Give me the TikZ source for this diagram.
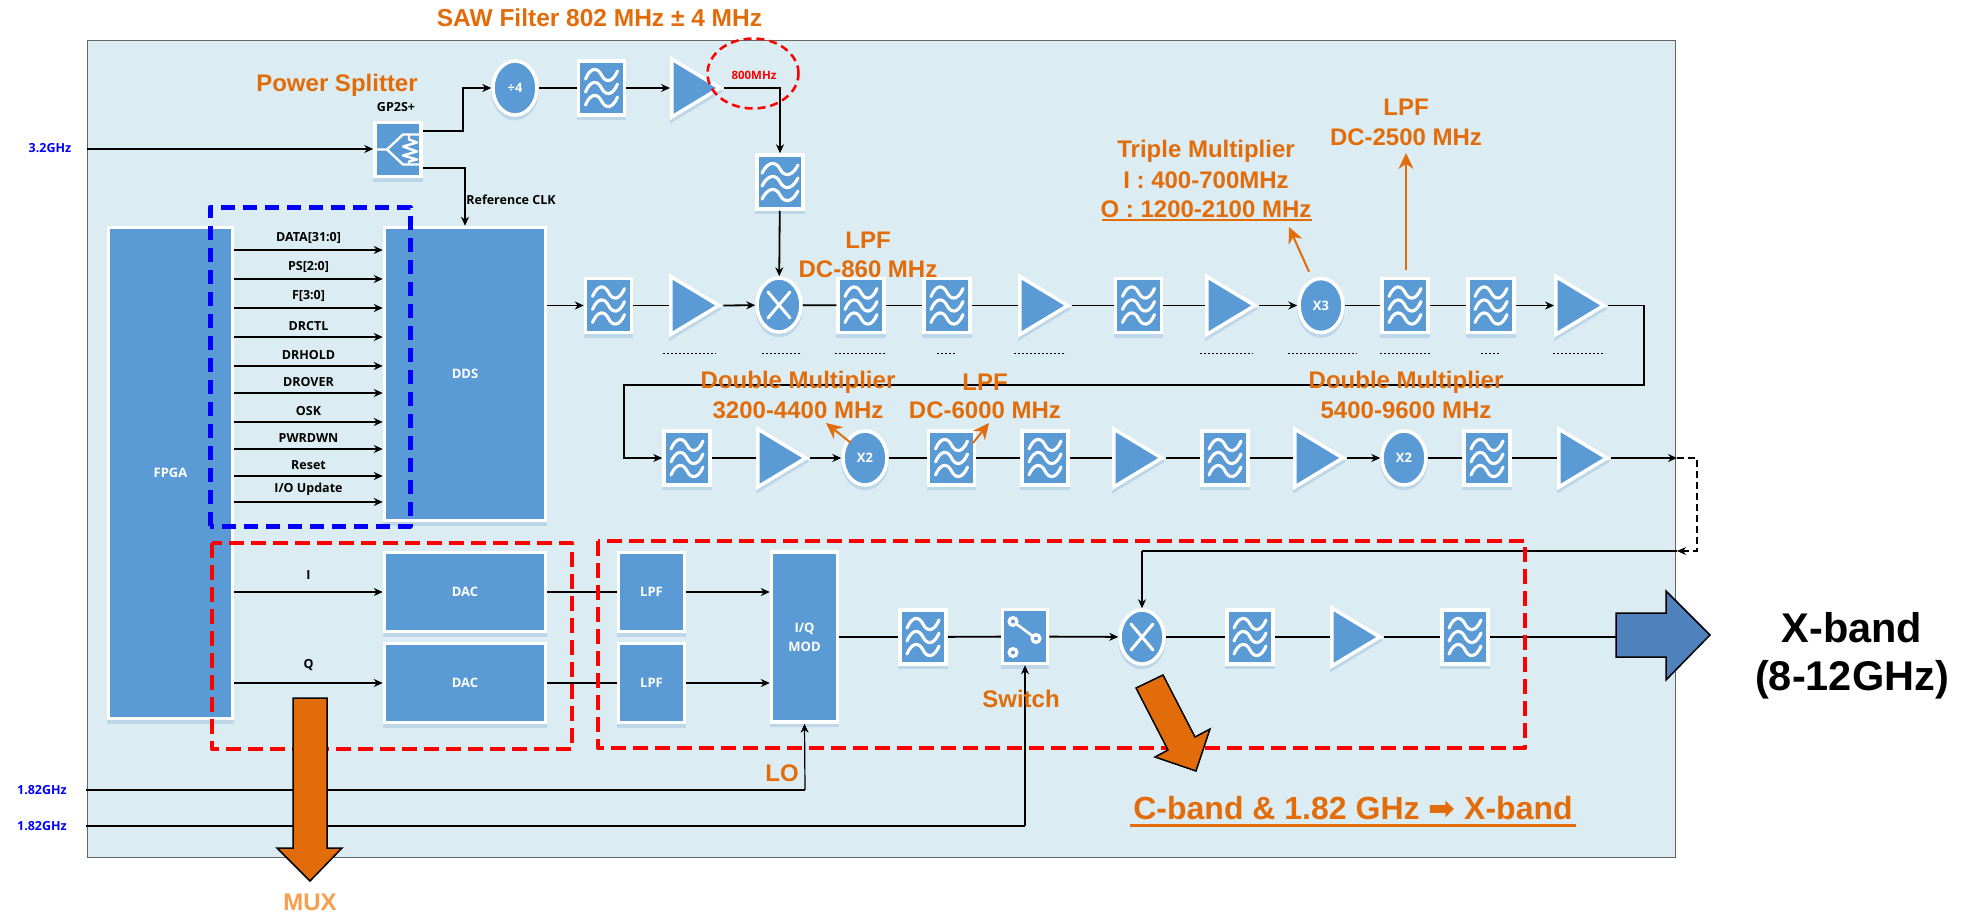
\documentclass[tikz,border=0pt]{standalone}
\usepackage{fontspec}
\setmainfont{Liberation Sans}
\newfontfamily\lab{Open Sans}
\newfontfamily\arrowfont{DejaVu Sans}
\usetikzlibrary{arrows.meta,shapes.geometric,shadows}
\definecolor{panelc}{HTML}{DBEDF3}
\definecolor{blockc}{HTML}{5B9BD5}
\definecolor{shadc}{HTML}{BDD7E8}
\definecolor{orangec}{HTML}{E36C0A}
\definecolor{muxc}{HTML}{F79E4F}
\definecolor{bigblue}{HTML}{4F81BD}
\tikzset{
  >={Stealth[length=9pt,width=8pt]},
  blk/.style={draw=white,fill=blockc,line width=3.5pt,inner sep=0pt,
    general shadow={shadow xshift=0pt,shadow yshift=-3.5pt,fill=shadc,draw=shadc}},
  wire/.style={draw=black,line width=1.8pt},
  thinwire/.style={draw=black,line width=1.2pt},
  boxb/.style={blk,rectangle,text=white,font=\lab\bfseries\fontsize{13}{16}\selectfont,align=center},
  filt/.style={blk,rectangle,minimum width=46pt,minimum height=54pt,
    path picture={\begin{scope}[shift={(path picture bounding box.center)},white,line width=3.1pt,line cap=round]
      \foreach \q in {-13,0,13}{\draw (-16,\q+4) .. controls (-11,\q-8) and (-4,\q-8) .. (0,\q) .. controls (4,\q+8) and (11,\q+8) .. (16,\q-4);}
    \end{scope}}},
  vfilt/.style={blk,rectangle,minimum width=46pt,minimum height=54pt,
    path picture={\begin{scope}[shift={(path picture bounding box.center)},rotate=90,white,line width=3.1pt,line cap=round]
      \foreach \q in {-13,0,13}{\draw (-18,\q+4) .. controls (-12,\q-8) and (-4,\q-8) .. (0,\q) .. controls (4,\q+8) and (12,\q+8) .. (18,\q-4);}
    \end{scope}}},
  split/.style={blk,rectangle,minimum width=46pt,minimum height=54pt,
    path picture={\begin{scope}[shift={(path picture bounding box.center)},white,line width=2.4pt,line join=round]
      \draw (-24,0) -- (-11,0) -- (5,-15) -- (24,-15);
      \draw (-11,0) -- (5,15) -- (24,15);
      \draw (11,-15) -- (11,-10) -- (19,-7) -- (5,-3) -- (19,2) -- (5,6) -- (19,10) -- (11,12) -- (11,15);
    \end{scope}}},
  swit/.style={blk,rectangle,minimum width=45pt,minimum height=54pt,
    path picture={\begin{scope}[shift={(path picture bounding box.center)},white]
      \draw[line width=2.6pt] (-12,-15) -- (11,2);
      \foreach \a/\b in {-12/-15,11/2,-12/16}{\fill (\a,\b) circle (5.6pt);\fill[blockc] (\a,\b) circle (2pt);}
    \end{scope}}},
  oval/.style={blk,ellipse,minimum width=44pt,minimum height=54pt,text=white,font=\lab\bfseries\fontsize{13}{15}\selectfont},
  mixer/.style={oval,
    path picture={\begin{scope}[shift={(path picture bounding box.center)},white,line width=3pt,line cap=round]
      \draw (-11,-13) -- (11,13); \draw (-11,13) -- (11,-13);
    \end{scope}}},
  amp/.style={blk,isosceles triangle,isosceles triangle stretches=true,shape border rotate=0,
    minimum width=58pt,minimum height=48pt,anchor=west},
  sig/.style={font=\lab\bfseries\fontsize{12.5}{15}\selectfont},
  freq/.style={font=\lab\bfseries\fontsize{12.5}{15}\selectfont,text=blue},
  ann/.style={font=\bfseries\fontsize{24}{28}\selectfont,text=orangec,inner sep=0pt},
  ptr/.style={draw=orangec,line width=2pt,-{Stealth[length=16pt,width=15pt]}},
  reddash/.style={draw=red,line width=4.5pt,dash pattern=on 15pt off 7pt,line join=round},
  specks/.style={draw=black,line width=1pt,dash pattern=on 2pt off 2pt},
}
\begin{document}
\begin{tikzpicture}[x=1pt,y=-1pt]
\useasboundingbox (0,0) rectangle (1961,912);
\fill[white] (0,0) rectangle (1961,912);
% panel
\node[draw=black!60!white,fill=panelc,line width=1.3pt,rectangle,anchor=north west,minimum width=1588pt,minimum height=817pt,inner sep=0pt] (panel) at (87,40) {};

% top chain
\node[split] (splitter) at (398,149.5) {};
\node[oval] (div4) at (515,88) {÷4};
\node[filt] (ft1) at (601.5,88) {};
\node[amp] (at1) at (670,88) {};
\node[vfilt] (fv) at (780,182) {};
\node[mixer] (mx1) at (779,305) {};

% blocks
\node[boxb,minimum width=124pt,minimum height=491pt] (fpga) at (170.5,473) {FPGA};
\node[boxb,minimum width=161pt,minimum height=293pt] (dds) at (465,374) {DDS};

% row 1
\node[filt] (r1a) at (608.5,305.5) {};
\node[amp] (r1b) at (669,305.5) {};
\node[filt] (r1c) at (861,305.5) {};
\node[filt] (r1d) at (947,305.5) {};
\node[amp] (r1e) at (1018,305.5) {};
\node[filt] (r1f) at (1138.5,305.5) {};
\node[amp] (r1g) at (1205,305.5) {};
\node[oval] (x3) at (1321,305.5) {X3};
\node[filt] (r1h) at (1405,305.5) {};
\node[filt] (r1i) at (1491,305.5) {};
\node[amp] (r1j) at (1554,305.5) {};

% row 2
\node[filt] (r2a) at (687,458) {};
\node[amp] (r2b) at (756,458) {};
\node[oval] (x2a) at (865,458) {X2};
\node[filt] (r2c) at (951.5,458) {};
\node[filt] (r2d) at (1045,458) {};
\node[amp] (r2e) at (1112,458) {};
\node[filt] (r2f) at (1225,458) {};
\node[amp] (r2g) at (1293,458) {};
\node[oval] (x2b) at (1404,458) {X2};
\node[filt] (r2h) at (1487,458) {};
\node[amp] (r2i) at (1557,458) {};

% bottom
\node[boxb,minimum width=161pt,minimum height=79pt] (dac1) at (465,592) {DAC};
\node[boxb,minimum width=161pt,minimum height=79pt] (dac2) at (465,683) {DAC};
\node[boxb,minimum width=66pt,minimum height=79pt] (lpf1) at (651.5,592) {LPF};
\node[boxb,minimum width=66pt,minimum height=79pt] (lpf2) at (651.5,683) {LPF};
\node[boxb,minimum width=66pt,minimum height=170pt] (iq) at (804.5,637) {I/Q\\[3pt]MOD};
\node[filt] (b1) at (923,637) {};
\node[swit] (sw) at (1025,636.5) {};
\node[mixer] (mx2) at (1142,637) {};
\node[filt] (b2) at (1250,637) {};
\node[amp] (b3) at (1330,637) {};
\node[filt] (b4) at (1465,637) {};

% free ends and bends of connectors
\coordinate (in32) at (87,149);
\coordinate (in18a) at (86,790);
\coordinate (in18b) at (86,826);
\coordinate (spA) at (423,131);
\coordinate (spB) at (423,168);
\coordinate (out) at (1677,458);
\coordinate (ret) at (1677,551);
\coordinate (retb) at (1142,551);
\coordinate (lo) at (805,790);
\coordinate (swb) at (1025,826);
\coordinate (xin) at (1616,637);

% connectors top
\draw[wire,->] (in32) -- (splitter.west |- in32);
\draw[wire,->] (spA) -| (463,88) -- (div4.west);
\draw[wire] (div4) -- (ft1);
\draw[wire,->] (ft1) -- (at1.west);
\draw[wire,->] (at1.east) -| (fv.north);
\draw[wire,->] (fv) -- (mx1);
\draw[wire,->] (spB) -| (dds.north);

% FPGA to DDS
\foreach \yy/\tx in {250/DATA[31:0],279/PS[2:0],308/F[3:0],337/DRCTL,366/DRHOLD,393/DROVER,422/OSK,449/PWRDWN,476/Reset,502/I\slash O Update}{
  \coordinate (sg) at (300,\yy);
  \draw[wire,->] (fpga.east |- sg) -- node[sig,above=2pt,midway] {\tx} (dds.west |- sg);
}

% row 1 connectors
\draw[wire,->] (dds.east |- r1a) -- (r1a);
\draw[wire] (r1a) -- (r1b.west);
\draw[wire,->] (r1b.east) -- (mx1);
\draw[wire] (mx1) -- (r1c);
\draw[wire] (r1c) -- (r1d);
\draw[wire] (r1d) -- (r1e.west);
\draw[wire] (r1e.east) -- (r1f);
\draw[wire] (r1f) -- (r1g.west);
\draw[wire,->] (r1g.east) -- (x3);
\draw[wire] (x3) -- (r1h);
\draw[wire] (r1h) -- (r1i);
\draw[wire,->] (r1i) -- (r1j.west);
\draw[wire,->] (r1j.east) -- (1644,305.5) -- (1644,385) -- (624,385) -- (624,458) -- (r2a);

% row 2 connectors
\draw[wire] (r2a) -- (r2b.west);
\draw[wire,->] (r2b.east) -- (x2a);
\draw[wire] (x2a) -- (r2c);
\draw[wire] (r2c) -- (r2d);
\draw[wire] (r2d) -- (r2e.west);
\draw[wire] (r2e.east) -- (r2f);
\draw[wire] (r2f) -- (r2g.west);
\draw[wire,->] (r2g.east) -- (x2b);
\draw[wire] (x2b) -- (r2h);
\draw[wire] (r2h) -- (r2i.west);
\draw[wire,->] (r2i.east) -- (out);
\draw[thinwire,dash pattern=on 7pt off 4pt,->] (out) -- (1697,458) -- (1697,551) -- (ret);
\draw[wire] (ret) -- (retb);
\draw[thinwire,->] (retb) -- (mx2.north);

% bottom connectors
\draw[wire,->] (fpga.east |- dac1) -- node[sig,above=8pt,midway] {I} (dac1);
\draw[wire,->] (fpga.east |- dac2) -- node[sig,above=8pt,midway] {Q} (dac2);
\draw[wire] (dac1) -- (lpf1);
\draw[wire] (dac2) -- (lpf2);
\draw[wire,->] (lpf1) -- (iq.west |- lpf1);
\draw[wire,->] (lpf2) -- (iq.west |- lpf2);
\draw[wire] (iq.east |- b1) -- (b1);
\draw[wire] (b1) -- (sw);
\draw[wire,->] (sw) -- (mx2);
\draw[wire] (mx2) -- (b2);
\draw[wire] (b2) -- (b3.west);
\draw[wire] (b3.east) -- (b4);
\draw[wire] (b4) -- (xin);
\draw[wire] (in18a) -- (lo);
\draw[thinwire,->] (lo) -- (iq.south);
\draw[wire] (in18b) -- (swb);
\draw[thinwire,->] (swb) -- (sw.south);

% dotted remnants under row 1
\foreach \a/\b in {663/716,762/802,835/886,937/955,1014/1066,1200/1253,1288/1357,1380/1431,1481/1500,1553/1605}
  \draw[specks] (\a,353) -- (\b,353);

% dashed groups
\draw[draw=blue,line width=5pt,dash pattern=on 14pt off 8pt,line join=round] (210,526) -- (210,207) -- (410,207) -- (410,526) -- cycle;
\draw[reddash] (212,543) rectangle (572,749);
\draw[reddash] (598,541) rectangle (1525,748);
\node[draw=red,line width=2.5pt,dash pattern=on 8pt off 5pt,ellipse,minimum width=91pt,minimum height=70pt,inner sep=0pt] (ring) at (753,73.5) {};
\node[font=\lab\bfseries\fontsize{11.5}{14}\selectfont,text=red,inner sep=0pt] (mhz) at (754,75) {800MHz};

% thick arrows
\draw[draw=black,fill=orangec,line width=1.5pt,line join=miter] (293,698) -- (327,698) -- (327,848) -- (342,848) -- (310,881) -- (277,848) -- (293,848) -- cycle;
\draw[draw=black,fill=orangec,line width=1.5pt] (1136,688) -- (1163,675) -- (1195,737) -- (1210,729) -- (1196,771) -- (1155,757) -- (1168,750) -- cycle;
\draw[draw=black,fill=bigblue,line width=1.5pt] (xin |- 0,613) -- (1666,613) -- (1666,591) -- (1710,635) -- (1666,680) -- (1666,657) -- (xin |- 0,657) -- cycle;

% annotations
\node[ann,font=\bfseries\fontsize{24.5}{28}\selectfont] (sawl) at (599.5,18) {SAW Filter 802 MHz ± 4 MHz};
\node[ann] (psl) at (337,85) {Power Splitter};
\node[sig,inner sep=0pt] (gp) at (396,107) {GP2S+};
\node[sig,inner sep=0pt] (refc) at (511,200) {Reference CLK};
\node[freq,inner sep=0pt] (f32) at (50,148) {3.2GHz};
\node[freq,inner sep=0pt] (f18a) at (42,790) {1.82GHz};
\node[freq,inner sep=0pt] (f18b) at (42,826) {1.82GHz};
\node[ann] (l1a) at (868,240) {LPF};
\node[ann] (l1b) at (868,269) {DC-860 MHz};
\node[ann] (t1) at (1206,151) {Triple Multiplier};
\node[ann] (t2) at (1206,180) {I : 400-700MHz};
\node[ann] (t3) at (1206,209) {O : 1200-2100 MHz};
\draw[draw=orangec,line width=2pt] (1102,220) -- (1312,220);
\node[ann] (l2a) at (1406,107) {LPF};
\node[ann] (l2b) at (1406,137) {DC-2500 MHz};
\draw[ptr] (l2b.south |- 0,270) -- (l2b.south |- 0,153);
\draw[ptr] (x3.north) ++(-12,-5) -- (1289,227);
\node[ann] (d1a) at (798,382) {Double Multiplier};
\node[ann] (d1b) at (798,410) {3200-4400 MHz};
\node[ann] (l3a) at (985,382) {LPF};
\node[ann] (l3b) at (985,410) {DC-6000 MHz};
\node[ann] (d2a) at (1406,382) {Double Multiplier};
\node[ann] (d2b) at (1406,410) {5400-9600 MHz};
\draw[ptr] (851,443) -- (826,423);
\draw[ptr] (973,443) -- (989,423);
\node[ann] (lol) at (782,773) {LO};
\node[ann] (swl) at (1021,699) {Switch};
\node[ann,text=muxc] (muxl) at (310,902) {MUX};
\node[ann,font=\bfseries\fontsize{32}{38}\selectfont] (cb) at (1353,808) {C-band \& 1.82 GHz {\arrowfont\bfseries ➡} X-band};
\draw[draw=orangec,line width=3pt] (1130,825) -- (1576,825);
\node[font=\bfseries\fontsize{41.5}{48}\selectfont,inner sep=0pt] (xb1) at (1852,628) {X-band};
\node[font=\bfseries\fontsize{41.5}{48}\selectfont,inner sep=0pt] (xb2) at (1852,680) {(8-12GHz)};
\end{tikzpicture}
\end{document}
